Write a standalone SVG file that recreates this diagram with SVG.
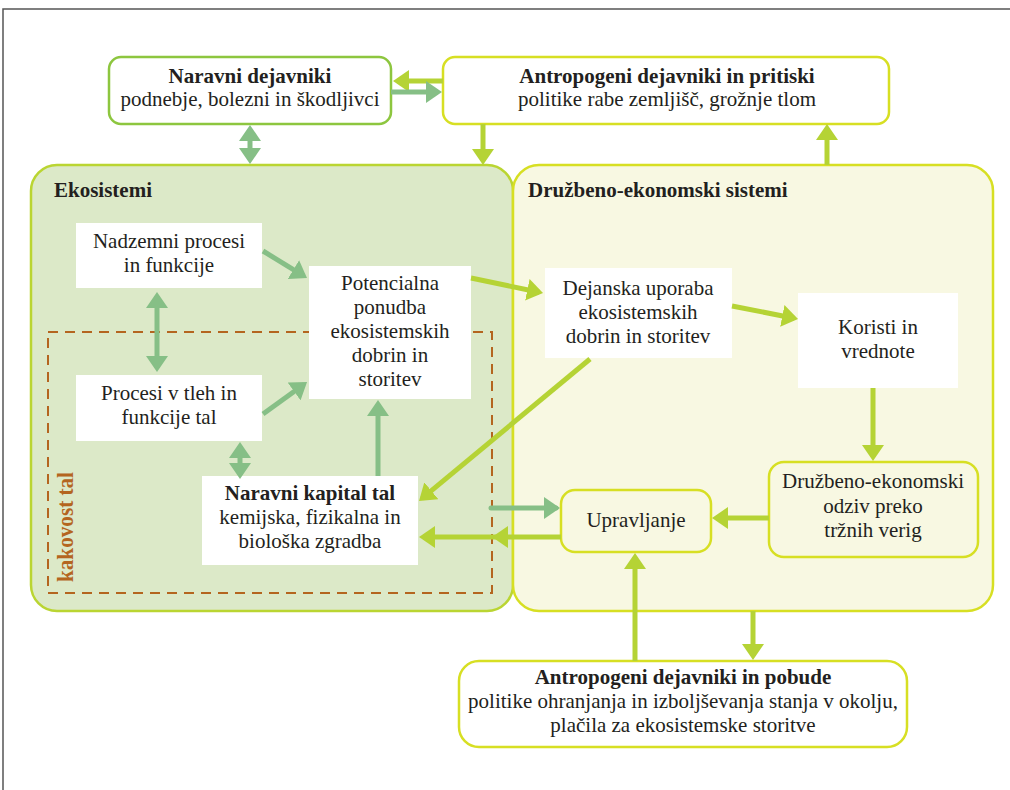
<svg xmlns="http://www.w3.org/2000/svg" width="1010" height="790" viewBox="0 0 1010 790">
<style>
text{font-family:"Liberation Serif","DejaVu Serif",serif;font-size:21px;fill:#231f20;text-anchor:middle}
.b{font-weight:bold}
.hd{font-weight:bold;text-anchor:start}
.wb{fill:#ffffff;stroke:none}
.lime{stroke:#b5d335;stroke-width:5;fill:none}
.grn{stroke:#86bf86;stroke-width:5;fill:none}
.kt{font-weight:bold;fill:#b4651f;font-size:24px}
</style>
<defs>
<marker id="hl" markerUnits="userSpaceOnUse" viewBox="0 0 16 22" markerWidth="16" markerHeight="22" refX="12" refY="11" orient="auto-start-reverse"><path d="M0,0 L16,11 L0,22 z" fill="#b5d335"/></marker>
<marker id="hg" markerUnits="userSpaceOnUse" viewBox="0 0 16 22" markerWidth="16" markerHeight="22" refX="12" refY="11" orient="auto-start-reverse"><path d="M0,0 L16,11 L0,22 z" fill="#86bf86"/></marker>
</defs>
<rect width="1010" height="790" fill="#ffffff"/>
<path d="M3,790 L3,9 L1010,9" fill="none" stroke="#555555" stroke-width="1.5"/>

<g id="ekosistemi">
<rect x="31" y="165" width="482" height="446" rx="26" fill="#dce9c8" stroke="#bad532" stroke-width="2.5"/>
<text class="hd" x="54" y="197">Ekosistemi</text>
</g>
<g id="druzbeno-ekonomski-sistemi">
<rect x="513" y="165" width="480" height="446" rx="26" fill="#f8f8e2" stroke="#d7df23" stroke-width="2.5"/>
<text class="hd" x="528" y="197">Družbeno-ekonomski sistemi</text>
</g>
<g id="kakovost-tal">
<rect x="48" y="332" width="444" height="261" fill="none" stroke="#b4651f" stroke-width="2" stroke-dasharray="10,7"/>
<text class="kt" transform="translate(73,527) rotate(-90)" textLength="110" lengthAdjust="spacingAndGlyphs">kakovost tal</text>
</g>

<g id="naravni-dejavniki">
<rect x="109" y="57" width="282" height="67" rx="12" fill="#ffffff" stroke="#8dc63f" stroke-width="2.5"/>
<text class="b" x="250" y="83">Naravni dejavniki</text>
<text x="250" y="106">podnebje, bolezni in škodljivci</text>
</g>
<g id="antropogeni-pritiski">
<rect x="443" y="57" width="446" height="67" rx="12" fill="#ffffff" stroke="#d7df23" stroke-width="2.5"/>
<text class="b" x="667" y="83">Antropogeni dejavniki in pritiski</text>
<text x="667" y="106">politike rabe zemljišč, grožnje tlom</text>
</g>
<g id="nadzemni">
<rect class="wb" x="76" y="223" width="186" height="65"/>
<text x="169" y="248">Nadzemni procesi</text>
<text x="169" y="272">in funkcije</text>
</g>
<g id="procesi-tla">
<rect class="wb" x="76" y="375" width="186" height="66"/>
<text x="169" y="400">Procesi v tleh in</text>
<text x="169" y="424">funkcije tal</text>
</g>
<g id="potencialna">
<rect class="wb" x="309" y="266" width="162" height="133"/>
<text x="390" y="290">Potencialna</text>
<text x="390" y="314">ponudba</text>
<text x="390" y="338">ekosistemskih</text>
<text x="390" y="362">dobrin in</text>
<text x="390" y="386">storitev</text>
</g>
<g id="naravni-kapital">
<rect class="wb" x="202" y="476" width="216" height="89"/>
<text class="b" x="310" y="500">Naravni kapital tal</text>
<text x="310" y="524">kemijska, fizikalna in</text>
<text x="310" y="548">biološka zgradba</text>
</g>
<g id="dejanska">
<rect class="wb" x="545" y="268" width="187" height="90"/>
<text x="638" y="295">Dejanska uporaba</text>
<text x="638" y="319">ekosistemskih</text>
<text x="638" y="343">dobrin in storitev</text>
</g>
<g id="koristi">
<rect class="wb" x="798" y="293" width="160" height="95"/>
<text x="878" y="334">Koristi in</text>
<text x="878" y="358">vrednote</text>
</g>
<g id="odziv">
<rect x="769" y="462" width="209" height="95" rx="15" fill="#f8f8e2" stroke="#d7df23" stroke-width="2.5"/>
<text x="873" y="488">Družbeno-ekonomski</text>
<text x="873" y="513">odziv preko</text>
<text x="873" y="537">tržnih verig</text>
</g>
<g id="upravljanje">
<rect x="561" y="490" width="150" height="62" rx="14" fill="#f8f8e2" stroke="#d7df23" stroke-width="2.5"/>
<text x="636" y="527">Upravljanje</text>
</g>
<g id="antropogeni-pobude">
<rect x="459" y="661" width="448" height="86" rx="20" fill="#ffffff" stroke="#d7df23" stroke-width="2.5"/>
<text class="b" x="683" y="684">Antropogeni dejavniki in pobude</text>
<text x="683" y="708">politike ohranjanja in izboljševanja stanja v okolju,</text>
<text x="683" y="732">plačila za ekosistemske storitve</text>
</g>

<g id="connectors">
<line class="lime" x1="443" y1="81" x2="397" y2="81" marker-end="url(#hl)"/>
<line class="grn" x1="391" y1="92" x2="438" y2="92" marker-end="url(#hg)"/>
<line class="grn" x1="250" y1="129" x2="250" y2="160" marker-start="url(#hg)" marker-end="url(#hg)"/>
<line class="lime" x1="483" y1="124" x2="483" y2="161" marker-end="url(#hl)"/>
<line class="lime" x1="827" y1="165" x2="827" y2="128" marker-end="url(#hl)"/>
<line class="grn" x1="263" y1="251" x2="303.6" y2="275.9" marker-end="url(#hg)"/>
<line class="grn" x1="157" y1="296" x2="157" y2="368" marker-start="url(#hg)" marker-end="url(#hg)"/>
<line class="grn" x1="263" y1="414" x2="303.8" y2="384.4" marker-end="url(#hg)"/>
<line class="grn" x1="240" y1="446" x2="240" y2="475" marker-start="url(#hg)" marker-end="url(#hg)"/>
<line class="grn" x1="378" y1="476" x2="378" y2="404" marker-end="url(#hg)"/>
<line class="lime" x1="471" y1="278" x2="539.1" y2="292.2" marker-end="url(#hl)"/>
<line class="lime" x1="732" y1="306" x2="794.1" y2="318.2" marker-end="url(#hl)"/>
<line class="lime" x1="873" y1="388" x2="873" y2="457" marker-end="url(#hl)"/>
<line class="lime" x1="769" y1="518" x2="716" y2="518" marker-end="url(#hl)"/>
<line class="lime" x1="590" y1="359" x2="422.1" y2="498.4" marker-end="url(#hl)"/>
<line class="grn" x1="491" y1="508" x2="556" y2="508" stroke-linecap="round" marker-end="url(#hg)"/>
<path class="lime" d="M561,537 L496,537 L423,537" marker-mid="url(#hl)" marker-end="url(#hl)"/>
<line class="lime" x1="635" y1="661" x2="635" y2="557" marker-end="url(#hl)"/>
<line class="lime" x1="753" y1="611" x2="753" y2="656" marker-end="url(#hl)"/>
</g>
</svg>
